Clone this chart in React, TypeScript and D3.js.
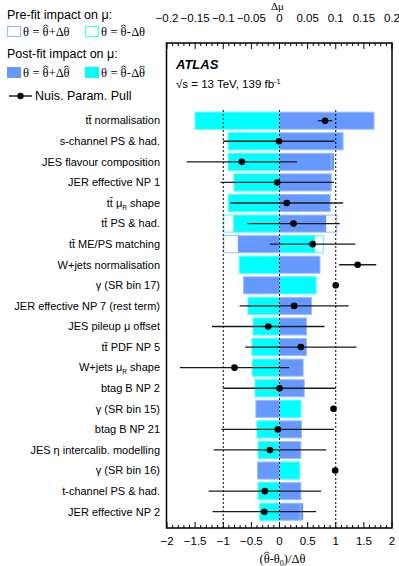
import React from 'react';
import * as d3 from 'd3';

const labels = [
  'tt̄ normalisation',
  's-channel PS & had.',
  'JES flavour composition',
  'JER effective NP 1',
  'tt̄ μ_R shape',
  'tt̄ PS & had.',
  'tt̄ ME/PS matching',
  'W+jets normalisation',
  'γ (SR bin 17)',
  'JER effective NP 7 (rest term)',
  'JES pileup μ offset',
  'tt̄ PDF NP 5',
  'W+jets μ_R shape',
  'btag B NP 2',
  'γ (SR bin 15)',
  'btag B NP 21',
  'JES η intercalib. modelling',
  'γ (SR bin 16)',
  't-channel PS & had.',
  'JER effective NP 2',
];

// impact on mu (top axis)
const postUp = [0.168, 0.113, 0.097, 0.092, 0.09, 0.083, -0.074, 0.072, -0.064, 0.057, 0.048, 0.048, 0.042, 0.044, -0.042, 0.039, 0.038, -0.039, 0.038, 0.042];
const postDown = [-0.15, -0.091, -0.091, -0.081, -0.091, -0.082, 0.063, -0.0715, 0.065, -0.056, -0.047, -0.049, -0.048, -0.0435, 0.038, -0.04, -0.038, 0.036, -0.038, -0.035];
const preUp = [0.168, 0.113, 0.092, 0.092, 0.09, 0.102, -0.099, 0.072, -0.064, 0.057, 0.048, 0.048, 0.042, 0.044, -0.042, 0.039, 0.038, -0.039, 0.038, 0.037];
const preDown = [-0.15, -0.091, -0.091, -0.081, -0.091, -0.099, 0.078, -0.0715, 0.065, -0.056, -0.047, -0.049, -0.048, -0.0435, 0.038, -0.04, -0.038, 0.036, -0.038, -0.035];

// pulls (bottom axis)
const pull = [0.81, -0.01, -0.67, -0.04, 0.13, 0.25, 0.59, 1.39, 1.0, 0.26, -0.2, 0.38, -0.8, 0.0, 0.96, -0.03, -0.17, 0.99, -0.26, -0.27];
const pullErr = [0.13, 0.99, 0.98, 1.01, 1.0, 0.82, 0.76, 0.33, 0, 0.97, 1.0, 0.99, 0.97, 1.0, 0, 1.0, 1.0, 0, 1.0, 0.92];

const bottomTicks = [-2, -1.5, -1, -0.5, 0, 0.5, 1, 1.5, 2];
const topTicks = [-0.2, -0.15, -0.1, -0.05, 0, 0.05, 0.1, 0.15, 0.2];
const refLines = [-1, 0, 1];

const BLUE = '#6699ff';
const CYAN = '#00ffff';
const BLUE_LINE = '#9dbcff';
const CYAN_LINE = '#44ffff';
const FONT = '"Liberation Sans", Arial, Helvetica, sans-serif';
const SERIF = '"Liberation Serif", "Times New Roman", serif';

const W = 399;
const H = 566;
const left = 167;
const right = 392;
const top = 43;
const bottom = 528;

const xPull = d3.scaleLinear().domain([-2, 2]).range([left, right]);
const xMu = d3.scaleLinear().domain([-0.2, 0.2]).range([left, right]);
const y = d3.scaleBand<string>().domain(labels).range([110.4, 522]).paddingInner(0.17).paddingOuter(0.085);

const fmt = (v: number) => String(v).replace('-', '−');

function Label({ text, x, yy }: { text: string; x: number; yy: number }) {
  const parts = text.split('_');
  if (parts.length === 1) {
    return (
      <text x={x} y={yy} textAnchor="end">
        {text}
      </text>
    );
  }
  const sub = parts[1].slice(0, 1);
  const rest = parts[1].slice(1);
  return (
    <text x={x} y={yy} textAnchor="end">
      {parts[0]}
      <tspan dy={3} fontSize={6.5}>{sub}</tspan>
      <tspan dy={-3}>{rest}</tspan>
    </text>
  );
}

// theta with a hat drawn as a small caret above it
function Hat({ x, yy, size }: { x: number; yy: number; size: number }) {
  const w = size * 0.22;
  const top = yy - size * 0.88;
  return (
    <polyline
      points={`${x - w},${top + size * 0.12} ${x},${top} ${x + w},${top + size * 0.12}`}
      fill="none"
      stroke="#000"
      strokeWidth={0.8}
    />
  );
}

// "θ = θ̂±Δθ" with optional hat on the last theta
function ThetaExpr({ x, yy, sign, hatLast }: { x: number; yy: number; sign: string; hatLast: boolean }) {
  const fs = 12.5;
  // approximate glyph advances for Liberation Serif
  const th = fs * 0.5;
  const eqStart = x + th + fs * 0.25;
  const theta2 = eqStart + fs * 0.56 + fs * 0.25;
  const signX = theta2 + th;
  const deltaX = signX + fs * (sign === '+' ? 0.56 : 0.36);
  const theta3 = deltaX + fs * 0.61;
  return (
    <g>
      <text x={x} y={yy} fontFamily={SERIF} fontSize={fs}>θ</text>
      <text x={eqStart} y={yy} fontFamily={SERIF} fontSize={fs}>=</text>
      <text x={theta2} y={yy} fontFamily={SERIF} fontSize={fs}>θ</text>
      <Hat x={theta2 + th / 2} yy={yy} size={fs} />
      <text x={signX} y={yy} fontFamily={SERIF} fontSize={fs}>{sign}</text>
      <text x={deltaX} y={yy} fontFamily={SERIF} fontSize={fs}>Δ</text>
      <text x={theta3} y={yy} fontFamily={SERIF} fontSize={fs}>θ</text>
      {hatLast && <Hat x={theta3 + th / 2} yy={yy} size={fs} />}
    </g>
  );
}

export default function App() {
  const bh = y.bandwidth();
  const minorBottom = d3.range(-2, 2.0001, 0.1);
  const minorTop = d3.range(-0.2, 0.20001, 0.01);
  const x0 = xMu(0);

  const bar = (v: number, yy: number, fill: string, stroke: string, key: string, open: boolean) => {
    const x1 = Math.min(x0, xMu(v));
    const w = Math.abs(xMu(v) - x0);
    return (
      <rect
        key={key}
        x={x1}
        y={yy}
        width={w}
        height={bh}
        fill={open ? 'none' : fill}
        stroke={open ? stroke : 'none'}
        strokeWidth={open ? 1 : 0}
      />
    );
  };

  const titleX = (left + right) / 2 - 20;

  return (
    <svg width={W} height={H} style={{ position: 'absolute', left: 0, top: 0, background: '#fff' }} fontFamily={FONT}>
      {/* legend */}
      <g fontSize={12.5} fill="#000">
        <text x={7} y={19}>Pre-fit impact on μ:</text>
        <rect x={7.5} y={26.5} width={13} height={10} fill="none" stroke={BLUE_LINE} strokeWidth={1.2} />
        <ThetaExpr x={23} yy={36} sign="+" hatLast={false} />
        <rect x={85.5} y={26.5} width={13} height={10} fill="none" stroke={CYAN_LINE} strokeWidth={1.2} />
        <ThetaExpr x={101} yy={36} sign="-" hatLast={false} />

        <text x={7} y={58}>Post-fit impact on μ:</text>
        <rect x={7} y={67} width={14} height={11} fill={BLUE} />
        <ThetaExpr x={23} yy={77} sign="+" hatLast={true} />
        <rect x={85} y={67} width={14} height={11} fill={CYAN} />
        <ThetaExpr x={101} yy={77} sign="-" hatLast={true} />

        <line x1={9} x2={32} y1={96} y2={96} stroke="#000" strokeWidth={1.3} />
        <circle cx={20.5} cy={96} r={3.2} fill="#000" />
        <text x={35} y={100}>Nuis. Param. Pull</text>
      </g>

      {/* top axis labels */}
      <text x={(left + right) / 2 - 2} y={10} fontSize={11} textAnchor="middle" fontFamily={SERIF}>Δμ</text>
      <g fontSize={11.5} textAnchor="middle">
        {topTicks.map((t) => (
          <text key={t} x={xMu(t)} y={22}>{fmt(t)}</text>
        ))}
      </g>

      {/* bars */}
      {labels.map((l, i) => {
        const yy = y(l)!;
        return (
          <g key={l}>
            {bar(postDown[i], yy, CYAN, CYAN_LINE, 'pd', false)}
            {bar(postUp[i], yy, BLUE, BLUE_LINE, 'pu', false)}
            {bar(preDown[i], yy, CYAN, CYAN_LINE, 'prd', true)}
            {bar(preUp[i], yy, BLUE, BLUE_LINE, 'pru', true)}
          </g>
        );
      })}

      {/* reference lines */}
      {refLines.map((r) => (
        <line key={r} x1={xPull(r)} x2={xPull(r)} y1={110} y2={bottom} stroke="#000" strokeWidth={1} strokeDasharray="2,2" />
      ))}

      {/* pulls */}
      {labels.map((l, i) => {
        const cy = y(l)! + bh / 2;
        return (
          <g key={l}>
            {pullErr[i] > 0 && (
              <line x1={xPull(pull[i] - pullErr[i])} x2={xPull(pull[i] + pullErr[i])} y1={cy} y2={cy} stroke="#1a1a1a" strokeWidth={1.3} />
            )}
            <circle cx={xPull(pull[i])} cy={cy} r={3.3} fill="#000" />
          </g>
        );
      })}

      {/* frame */}
      <rect x={left - 0.5} y={top} width={right - left + 0.5} height={bottom - top} fill="none" stroke="#000" strokeWidth={1.5} />

      {/* top ticks */}
      {minorTop.map((t, i) => (
        <line key={i} x1={xMu(t)} x2={xMu(t)} y1={top} y2={top + (i % 5 === 0 ? 6 : 3)} stroke="#000" strokeWidth={1} />
      ))}
      {/* bottom ticks */}
      {minorBottom.map((t, i) => (
        <line key={i} x1={xPull(t)} x2={xPull(t)} y1={bottom} y2={bottom - (i % 5 === 0 ? 6 : 3)} stroke="#000" strokeWidth={1} />
      ))}
      <g fontSize={11.5} textAnchor="middle">
        {bottomTicks.map((t) => (
          <text key={t} x={xPull(t)} y={545}>{fmt(t)}</text>
        ))}
      </g>
      <g>
        <text x={titleX} y={563} fontSize={12.5} fontFamily={SERIF}>
          (θ<tspan>-θ</tspan><tspan dy={2.5} fontSize={8}>0</tspan><tspan dy={-2.5}>)/Δθ</tspan>
        </text>
        <Hat x={titleX + 4.2 + 3.1} yy={563} size={12.5} />
      </g>

      {/* ATLAS label */}
      <text x={176} y={69} fontSize={13} fontWeight="bold" fontStyle="italic">ATLAS</text>
      <text x={176} y={88} fontSize={11.5}>
        √s = 13 TeV, 139 fb<tspan dy={-4} fontSize={7.5}>-1</tspan>
      </text>

      {/* y labels */}
      <g fontSize={11} fill="#000">
        {labels.map((l) => (
          <Label key={l} text={l} x={160} yy={y(l)! + bh / 2 + 3.8} />
        ))}
      </g>
    </svg>
  );
}
